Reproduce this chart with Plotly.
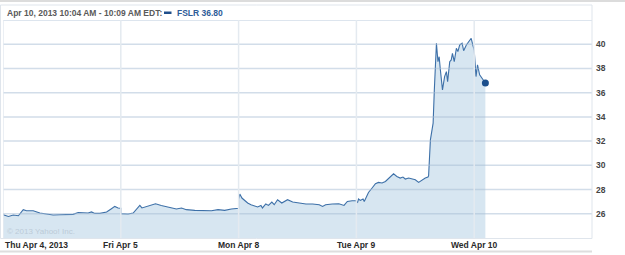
import plotly.graph_objects as go

# ---- data (minutes after 9:30 open, price) ----
day_labels = ["Thu Apr 4, 2013", "Fri Apr 5", "Mon Apr 8", "Tue Apr 9", "Wed Apr 10"]

thu_min = [0, 1, 18, 34, 51, 62, 67, 78, 100, 122, 144, 166, 188, 211, 232, 249, 265, 282, 293, 304, 321, 343, 359, 370, 381, 390]
thu_px = [26.06, 25.92, 25.78, 25.90, 25.84, 26.20, 26.34, 26.25, 26.25, 26.06, 25.95, 25.90, 25.92, 25.95, 25.95, 26.11, 26.06, 26.06, 26.15, 26.03, 26.03, 26.15, 26.42, 26.61, 26.48, 26.45]

fri_min = [0, 24, 41, 52, 63, 70, 85, 101, 115, 134, 156, 184, 201, 217, 245, 278, 300, 322, 344, 366, 379, 390]
fri_px = [26.01, 25.98, 26.06, 26.39, 26.69, 26.48, 26.61, 26.69, 26.83, 26.69, 26.56, 26.39, 26.48, 26.34, 26.28, 26.23, 26.25, 26.34, 26.28, 26.39, 26.42, 26.45]

mon_min = [0, 4, 11, 19, 30, 41, 52, 63, 74, 79, 90, 99, 110, 118, 129, 143, 162, 179, 201, 223, 245, 267, 278, 288, 310, 332, 349, 360, 376, 390]
mon_px = [27.2, 27.63, 27.30, 27.10, 26.89, 26.75, 26.67, 26.56, 26.69, 26.48, 26.81, 26.69, 26.97, 26.75, 27.16, 26.89, 27.16, 26.97, 26.89, 26.81, 26.81, 26.75, 26.61, 26.75, 26.81, 26.83, 26.69, 27.02, 27.08, 27.08]

tue_min = [0, 4, 7, 13, 22, 26, 33, 40, 52, 63, 73, 85, 96, 107, 115, 123, 134, 145, 154, 162, 173, 184, 195, 206, 217, 228, 237, 239, 245, 254, 258, 265, 270, 274, 278, 285, 292, 298, 302, 309, 314, 318, 324, 331, 336, 342, 350, 355, 364, 371, 380, 388, 390]
tue_px = [27.02, 26.94, 27.22, 27.10, 27.22, 27.02, 27.43, 27.76, 28.13, 28.48, 28.59, 28.54, 28.67, 28.95, 29.16, 29.30, 29.08, 28.95, 29.03, 28.87, 28.95, 28.87, 28.81, 28.59, 28.81, 28.95, 29.03, 29.14, 32.1, 33.48, 36.23, 40.08, 38.56, 38.97, 37.88, 36.23, 37.33, 37.74, 36.91, 38.56, 38.70, 39.25, 38.56, 39.67, 39.39, 39.94, 40.08, 39.47, 39.94, 40.21, 40.49, 39.67, 39.5]

wed_min = [6, 11, 18, 26, 37]
wed_px = [37.33, 38.29, 37.47, 37.19, 36.80]

y_ticks = [26, 28, 30, 32, 34, 36, 38, 40]
header_text = "Apr 10, 2013 10:04 AM - 10:09 AM EDT:"
legend_text = "FSLR 36.80"
copyright_text = "© 2013 Yahoo! Inc."

SESSION = 390.0
days = [(thu_min, thu_px), (fri_min, fri_px), (mon_min, mon_px), (tue_min, tue_px), (wed_min, wed_px)]
xs, ys = [], []
for i, (mins, pxs) in enumerate(days):
    xs += [i + m / SESSION for m in mins]
    ys += list(pxs)

W, H = 625, 255
L, R, T, B = 3, 33, 20, 17
pw, ph = W - L - R, H - T - B

def px_x(p):
    return (p - L) / pw

def px_y(p):
    return (H - B - p) / ph

fig = go.Figure()
fig.add_trace(go.Scatter(x=xs, y=ys, mode="lines", fill="tozeroy",
                         fillcolor="#d7e6f1", line=dict(color="#3d70a8", width=1.1),
                         hoverinfo="skip", showlegend=False))
fig.add_trace(go.Scatter(x=[xs[-1]], y=[ys[-1]], mode="markers",
                         marker=dict(color="#1c4f8c", size=7), showlegend=False))

shapes = []
# horizontal grid lines (visible through fill)
for v in y_ticks + [42]:
    shapes.append(dict(type="line", xref="paper", yref="y", x0=0, x1=1, y0=v, y1=v,
                       line=dict(color="rgba(165,188,212,0.5)", width=1.5), layer="above"))
# vertical day lines
for i in range(len(day_labels)):
    shapes.append(dict(type="line", xref="x", yref="paper", x0=i, x1=i, y0=0, y1=1,
                       line=dict(color="#e4eaf0", width=1.5), layer="above"))
# frame
shapes.append(dict(type="rect", xref="paper", yref="paper", x0=px_x(0.5), x1=px_x(592),
                   y0=px_y(238.5), y1=px_y(5), line=dict(color="#dfe5ec", width=1), layer="above"))
shapes.append(dict(type="line", xref="paper", yref="paper", x0=px_x(0), x1=px_x(625),
                   y0=px_y(1), y1=px_y(1), line=dict(color="#dcdcdc", width=2), layer="above"))
shapes.append(dict(type="line", xref="paper", yref="paper", x0=px_x(0), x1=px_x(592),
                   y0=px_y(251.5), y1=px_y(251.5), line=dict(color="#dedede", width=2), layer="above"))
# legend swatch
shapes.append(dict(type="rect", xref="paper", yref="paper", x0=px_x(164), x1=px_x(171.5),
                   y0=px_y(14), y1=px_y(11.5), fillcolor="#1f4f8b", line=dict(width=0)))

annotations = []
for i, lab in enumerate(day_labels):
    annotations.append(dict(x=i, y=px_y(245), xref="x", yref="paper", text=lab, showarrow=False,
                            xanchor="left" if i == 0 else "center", yanchor="middle",
                            font=dict(family="Liberation Sans", size=8.5, color="#2a2a2a", weight="bold")))
annotations.append(dict(x=px_x(5), y=px_y(13), xref="paper", yref="paper", text=header_text,
                        showarrow=False, xanchor="left", yanchor="middle",
                        font=dict(family="Liberation Sans", size=8.5, color="#5a5a5a", weight="bold")))
annotations.append(dict(x=px_x(175), y=px_y(13), xref="paper", yref="paper", text=legend_text,
                        showarrow=False, xanchor="left", yanchor="middle",
                        font=dict(family="Liberation Sans", size=8.5, color="#2d5c98", weight="bold")))
annotations.append(dict(x=px_x(5), y=px_y(231), xref="paper", yref="paper", text=copyright_text,
                        showarrow=False, xanchor="left", yanchor="middle",
                        font=dict(family="Liberation Sans", size=8, color="#bccbd8")))

fig.update_layout(
    width=W, height=H, margin=dict(l=L, r=R, t=T, b=B),
    paper_bgcolor="white", plot_bgcolor="white",
    xaxis=dict(range=[0, 5], showgrid=False, zeroline=False, showticklabels=False, fixedrange=True),
    yaxis=dict(range=[24, 42], side="right", tickvals=y_ticks, ticktext=[str(v) for v in y_ticks],
               showgrid=False, zeroline=False, ticks="", ticklabelstandoff=3,
               tickfont=dict(family="Liberation Sans", size=8.5, color="#444444", weight="bold")),
    shapes=shapes, annotations=annotations, showlegend=False,
)
fig.write_html("out.html")
